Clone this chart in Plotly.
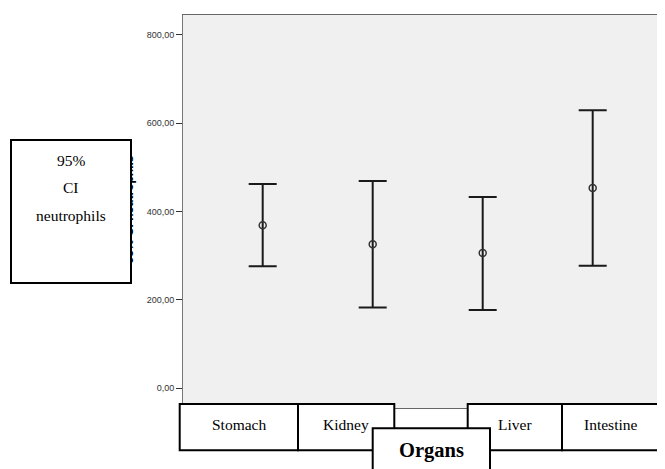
import plotly.graph_objects as go

# ---- data ----
organs = ["Stomach", "Kidney", "Liver", "Intestine"]
means = [369, 326, 306, 453]
upper_ci = [462, 469, 433, 629]
lower_ci = [276, 183, 177, 277]
y_tick_vals = [0, 200, 400, 600, 800]
y_tick_text = ["0,00", "200,00", "400,00", "600,00", "800,00"]
y_title = "95% CI neutrophils"
x_title = "Organs"

OFF = 8  # page body margin
W, H = 665 - OFF, 469 - OFF
L, R, T, B = 183 - OFF, 0, 15 - OFF, 61
PW, PH = W - L - R, H - T - B


def px(x):  # page pixel -> paper
    return (x - OFF - L) / PW


def py(y):
    return (H - B - (y - OFF)) / PH


err_plus = [u - m for u, m in zip(upper_ci, means)]
err_minus = [m - l for m, l in zip(means, lower_ci)]

fig = go.Figure()
fig.add_trace(go.Scatter(
    x=list(range(len(organs))), y=means, mode="markers",
    marker=dict(symbol="circle-open", size=7, color="#333333", line=dict(width=1.5, color="#333333")),
    error_y=dict(type="data", symmetric=False, array=err_plus, arrayminus=err_minus,
                 color="#1a1a1a", thickness=2, width=14),
    showlegend=False, hoverinfo="skip",
))

serif = "Liberation Serif, Times New Roman, serif"
annotations = []
# hidden original y-axis title, mostly covered by the box
annotations.append(dict(xref="paper", yref="paper", x=px(128.5), y=py(210), xanchor="center", yanchor="middle",
                        text="<b>" + y_title + "</b>", textangle=-90, showarrow=False,
                        font=dict(family="Liberation Sans, Arial", size=12, color="black")))
# left box
annotations.append(dict(xref="paper", yref="paper", x=px(71), y=py(211.5), xanchor="center", yanchor="middle",
                        text=" ", showarrow=False, width=118, height=141, bgcolor="white",
                        bordercolor="black", borderwidth=2, borderpad=0))
words = y_title.split(" ")
for w, yy in zip(words, [160, 187, 215]):
    annotations.append(dict(xref="paper", yref="paper", x=px(71), y=py(yy), xanchor="center", yanchor="middle",
                            text=w, showarrow=False, font=dict(family=serif, size=15.5, color="black")))

# bottom category boxes
shapes = []
boxes = [(179.7, 298), (298, 394.3), (467.7, 562), (562, 658.3)]
for (x0, x1), name in zip(boxes, organs):
    shapes.append(dict(type="rect", xref="paper", yref="paper", x0=px(x0), x1=px(x1), y0=py(404), y1=py(450.3),
                       line=dict(color="black", width=2), fillcolor="white", layer="above"))
    annotations.append(dict(xref="paper", yref="paper", x=px((x0 + x1) / 2), y=py(425), xanchor="center",
                            yanchor="middle", text=name, showarrow=False,
                            font=dict(family=serif, size=15.5, color="black")))
shapes.append(dict(type="rect", xref="paper", yref="paper", x0=px(372.7), x1=px(490), y0=py(428.3), y1=py(485),
                   line=dict(color="black", width=2), fillcolor="white", layer="above"))
annotations.append(dict(xref="paper", yref="paper", x=px(431), y=py(451), xanchor="center", yanchor="middle",
                        text="<b>" + x_title + "</b>", showarrow=False,
                        font=dict(family=serif, size=20.5, color="black")))

fig.update_layout(
    width=W, height=H, margin=dict(l=L, r=R, t=T, b=B, pad=0),
    paper_bgcolor="white", plot_bgcolor="#f0f0f0",
    xaxis=dict(range=[-(262.7 - OFF - L) / 110, (W + OFF - 262.7) / 110], showticklabels=False, ticks="",
               showgrid=False, zeroline=False, showline=True, mirror=True, linecolor="#666666", linewidth=1),
    yaxis=dict(range=[-44.5, 844.5], tickvals=y_tick_vals, ticktext=y_tick_text, ticks="outside",
               ticklen=6, tickcolor="#333333", tickwidth=1, showgrid=False, zeroline=False,
               showline=True, linecolor="#777777", linewidth=1,
               tickfont=dict(family="Liberation Sans, Arial", size=9, color="#333333")),
    shapes=shapes, annotations=annotations,
)

fig.write_html("out.html")
